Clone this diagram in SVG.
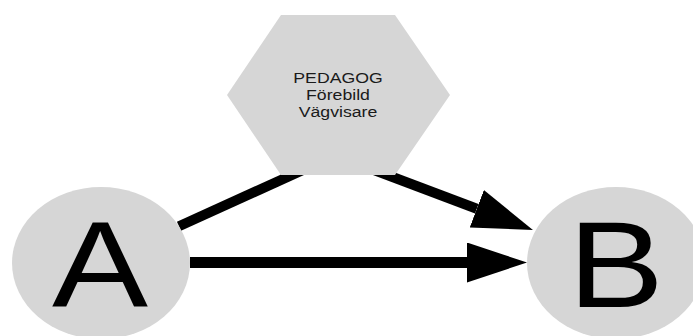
<svg xmlns="http://www.w3.org/2000/svg" width="693" height="336" viewBox="0 0 693 336">
<style>
.node{fill:#d6d6d6;stroke:none}
.big{font-family:"Liberation Sans",Arial,sans-serif;font-size:122px;fill:#000;text-anchor:middle}
.small{font-family:"Liberation Sans",Arial,sans-serif;font-size:15px;fill:#1a1a1a;text-anchor:middle}
.edge{stroke:#000;stroke-width:11;fill:none;stroke-linecap:butt}
</style>
<defs>
<marker id="arrow" markerUnits="userSpaceOnUse" markerWidth="60" markerHeight="40" refX="0" refY="20" orient="auto" viewBox="0 0 60 40">
<path d="M0,0 L60,20 L0,40 z" fill="#000"/>
</marker>
</defs>
<rect width="693" height="336" fill="#fff"/>
<g id="connectors">
<line class="edge" x1="179" y1="226.3" x2="314" y2="165" style="stroke-width:10"/>
<line class="edge" x1="374" y1="170" x2="476.8" y2="208.8" style="stroke-width:10" marker-end="url(#arrow)"/>
<line class="edge" x1="190" y1="262.5" x2="467" y2="262.5" marker-end="url(#arrow)"/>
</g>
<g id="node-pedagog">
<polygon class="node" points="227,95 281,15 395,15 450,95 395,175 281,175"/>
<g transform="translate(338,0) scale(1.18,1)">
<text class="small" x="0" y="83">PEDAGOG</text>
<text class="small" x="0" y="100">Förebild</text>
<text class="small" x="0" y="117">Vägvisare</text>
</g>
</g>
<g id="node-a">
<ellipse class="node" cx="101" cy="263" rx="89" ry="76"/>
<text class="big" transform="translate(100,307) scale(1.18,1)">A</text>
</g>
<g id="node-b">
<ellipse class="node" cx="616" cy="263" rx="89" ry="76"/>
<text class="big" transform="translate(616,307) scale(1.18,1)">B</text>
</g>
</svg>
